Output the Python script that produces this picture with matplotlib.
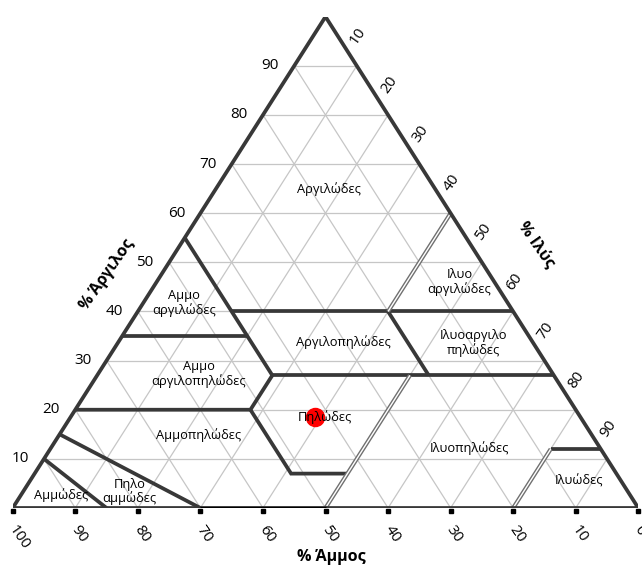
import matplotlib
matplotlib.use("Agg")
import matplotlib.pyplot as plt
from matplotlib.transforms import offset_copy

plt.rcParams['font.family'] = ['Open Sans', 'DejaVu Sans']

# compositions are (sand, silt, clay) in %
ticks = [10, 20, 30, 40, 50, 60, 70, 80, 90]
bottom_ticks = [100, 90, 80, 70, 60, 50, 40, 30, 20, 10, 0]

# class boundaries, solid dark lines
solid_bounds = [
    [(45, 0, 55), (45, 28, 27)],
    [(45, 15, 40), (0, 60, 40)],
    [(65, 0, 35), (45, 20, 35)],
    [(45, 28, 27), (0, 73, 27)],
    [(20, 40, 40), (20, 53, 27)],
    [(80, 0, 20), (52, 28, 20), (45, 28, 27)],
    [(52, 28, 20), (52, 41, 7), (43, 50, 7)],
    [(8, 80, 12), (0, 88, 12)],
    [(85, 0, 15), (70, 30, 0)],
    [(90, 0, 10), (85, 15, 0)],
]
# boundaries drawn as double (outlined) lines
double_bounds = [
    [(0, 40, 60), (20, 40, 40)],
    [(50, 50, 0), (23, 50, 27)],
    [(20, 80, 0), (8, 80, 12)],
]
black_bottom = [(70, 30, 0), (50, 50, 0)]

class_names = ["Αργιλώδες", "Ιλυο\nαργιλώδες", "Αμμο\nαργιλώδες", "Αργιλοπηλώδες",
               "Ιλυοαργιλο\nπηλώδες", "Αμμο\nαργιλοπηλώδες", "Πηλώδες", "Αμμοπηλώδες",
               "Ιλυοπηλώδες", "Ιλυώδες", "Αμμώδες", "Πηλο\nαμμώδες"]
class_pos = [(17, 18, 65), (5.6, 48.4, 46), (51.8, 6.5, 41.7), (30.3, 35.9, 33.8),
             (9.6, 56.8, 33.6), (56.6, 16.1, 27.3), (40.8, 40.7, 18.5), (62.9, 22.2, 14.9),
             (20.9, 66.9, 12.2), (6.7, 87.9, 5.4), (91, 6.4, 2.6), (79.7, 17, 3.3)]

sample = (42.5, 39, 18.5)


def xy(p):
    sand, silt, clay = p
    return silt + clay / 2.0, clay


def line(pts, **kw):
    xs = [xy(p)[0] for p in pts]
    ys = [xy(p)[1] for p in pts]
    ax.plot(xs, ys, solid_capstyle='butt', **kw)


fig = plt.figure(figsize=(6.42, 5.67), dpi=100)
ax = fig.add_axes([12.7 / 642, 59 / 567, 625.6 / 642, 491.3 / 567])
ax.set_xlim(0, 100)
ax.set_ylim(0, 100)
ax.axis('off')

grid_c = '#c6c6c6'
dark = '#383838'

# grid
for t in ticks:
    line([(100 - t, 0, t), (0, 100 - t, t)], color=grid_c, lw=0.9, zorder=1)
    line([(t, 100 - t, 0), (t, 0, 100 - t)], color=grid_c, lw=0.9, zorder=1)
    line([(100 - t, t, 0), (0, t, 100 - t)], color=grid_c, lw=0.9, zorder=1)

# sample point
sx, sy = xy(sample)
ax.plot(sx, sy, 'o', color='#ff0000', markersize=13, zorder=2)

for b in solid_bounds:
    line(b, color=dark, lw=2.7, zorder=3, solid_joinstyle='miter')
for b in double_bounds:
    line(b, color='#707070', lw=3.0, zorder=3)
    line(b, color='white', lw=1.0, zorder=3)
line(black_bottom, color='black', lw=2.4, zorder=5)

# outline
line([(100, 0, 0), (0, 100, 0), (0, 0, 100), (100, 0, 0)], color=dark, lw=2.7, zorder=4,
     solid_joinstyle='miter')

# bottom tick marks
tick_tr = offset_copy(ax.transData, fig=fig, x=0, y=-3, units='dots')
ax.plot([100 - v for v in bottom_ticks], [0] * len(bottom_ticks), 's', color='black',
        markersize=2.4, transform=tick_tr, zorder=5, clip_on=False)

# tick labels
bot_tr = offset_copy(ax.transData, fig=fig, x=-1, y=-19, units='dots')
for v in bottom_ticks:
    x, y = xy((v, 100 - v, 0))
    ax.text(x, y, str(v), transform=bot_tr, rotation=-55, rotation_mode='anchor',
            ha='left', va='center', fontsize=11, color='black')
left_tr = offset_copy(ax.transData, fig=fig, x=-24, y=0, units='dots')
for v in ticks:
    x, y = xy((100 - v, 0, v))
    ax.text(x, y, str(v), transform=left_tr, ha='center', va='center', fontsize=11)
right_tr = offset_copy(ax.transData, fig=fig, x=1, y=30, units='dots')
for v in ticks:
    x, y = xy((0, v, 100 - v))
    ax.text(x, y, str(v), transform=right_tr, rotation=55, ha='center', va='center',
            fontsize=11)

# class names
for name, p in zip(class_names, class_pos):
    x, y = xy(p)
    ax.text(x, y, name, ha='center', va='center', fontsize=9.3, zorder=6,
            linespacing=1.05)

# axis titles
fig.text(107 / 642, 1 - 275 / 567, "% Άργιλος", rotation=55, ha='center', va='center',
         fontsize=11.5, fontweight='bold')
fig.text(537 / 642, 1 - 244 / 567, "% Ιλύς", rotation=-55, ha='center', va='center',
         fontsize=11.5, fontweight='bold')
fig.text(331 / 642, 1 - 557 / 567, "% Άμμος", ha='center', va='center',
         fontsize=11.5, fontweight='bold')

fig.savefig("out.png", dpi=100)
